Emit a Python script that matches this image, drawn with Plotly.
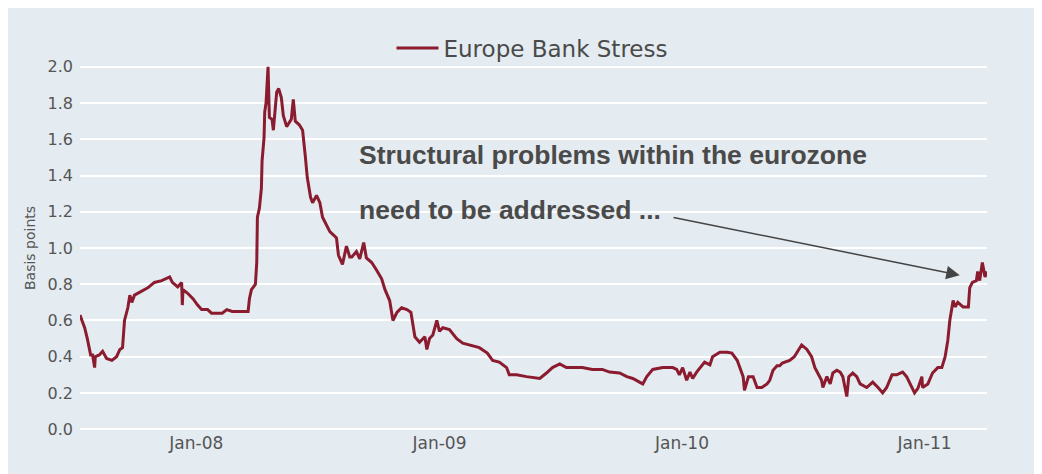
import plotly.graph_objects as go

dates = [
    "2007-07-10", "2007-07-17", "2007-07-21", "2007-07-26", "2007-07-29", "2007-08-01",
    "2007-08-02", "2007-08-08", "2007-08-13", "2007-08-19", "2007-08-27", "2007-09-03",
    "2007-09-08", "2007-09-12", "2007-09-15", "2007-09-20", "2007-09-23", "2007-09-26",
    "2007-09-30", "2007-10-11", "2007-10-20", "2007-10-30", "2007-11-10", "2007-11-22",
    "2007-11-26", "2007-12-04", "2007-12-10", "2007-12-11", "2007-12-12", "2007-12-19",
    "2007-12-27", "2008-01-03", "2008-01-09", "2008-01-18", "2008-01-24", "2008-02-09",
    "2008-02-16", "2008-02-24", "2008-03-09", "2008-03-19", "2008-03-21", "2008-03-24",
    "2008-03-28", "2008-03-30", "2008-04-01", "2008-04-02", "2008-04-05", "2008-04-08",
    "2008-04-09", "2008-04-12", "2008-04-13", "2008-04-15", "2008-04-18", "2008-04-20",
    "2008-04-24", "2008-04-26", "2008-05-01", "2008-05-04", "2008-05-08", "2008-05-11",
    "2008-05-16", "2008-05-20", "2008-05-23", "2008-05-26", "2008-05-29", "2008-06-04",
    "2008-06-09", "2008-06-13", "2008-06-16", "2008-06-21", "2008-06-24", "2008-06-30",
    "2008-07-05", "2008-07-09", "2008-07-15", "2008-07-20", "2008-07-26", "2008-07-30",
    "2008-08-02", "2008-08-08", "2008-08-14", "2008-08-19", "2008-08-22", "2008-08-26",
    "2008-08-29", "2008-09-03", "2008-09-09", "2008-09-13", "2008-09-21", "2008-09-28",
    "2008-10-06", "2008-10-11", "2008-10-18", "2008-10-23", "2008-10-29", "2008-11-05",
    "2008-11-13", "2008-11-19", "2008-11-25", "2008-12-02", "2008-12-10", "2008-12-13",
    "2008-12-17", "2008-12-22", "2008-12-28", "2009-01-01", "2009-01-06", "2009-01-16",
    "2009-01-27", "2009-02-05", "2009-02-18", "2009-03-02", "2009-03-14", "2009-03-22",
    "2009-04-01", "2009-04-12", "2009-04-16", "2009-04-27", "2009-05-12", "2009-06-01",
    "2009-06-11", "2009-06-20", "2009-07-01", "2009-07-11", "2009-07-20", "2009-08-04",
    "2009-08-19", "2009-09-03", "2009-09-14", "2009-09-29", "2009-10-10", "2009-10-19",
    "2009-10-29", "2009-11-03", "2009-11-09", "2009-11-18", "2009-12-03", "2009-12-18",
    "2009-12-24", "2009-12-28", "2010-01-02", "2010-01-08", "2010-01-13", "2010-01-17",
    "2010-01-23", "2010-01-28", "2010-02-04", "2010-02-12", "2010-02-16", "2010-02-27",
    "2010-03-10", "2010-03-17", "2010-03-25", "2010-03-29", "2010-04-03", "2010-04-05",
    "2010-04-11", "2010-04-18", "2010-04-24", "2010-05-01", "2010-05-09", "2010-05-13",
    "2010-05-18", "2010-05-24", "2010-05-28", "2010-06-01", "2010-06-12", "2010-06-19",
    "2010-06-27", "2010-06-30", "2010-07-08", "2010-07-15", "2010-07-20", "2010-07-24",
    "2010-07-30", "2010-08-01", "2010-08-07", "2010-08-12", "2010-08-16", "2010-08-22",
    "2010-08-27", "2010-08-31", "2010-09-06", "2010-09-09", "2010-09-15", "2010-09-21",
    "2010-09-26", "2010-10-06", "2010-10-15", "2010-10-23", "2010-10-30", "2010-11-05",
    "2010-11-13", "2010-11-20", "2010-11-29", "2010-12-05", "2010-12-13", "2010-12-17",
    "2010-12-22", "2010-12-28", "2010-12-29", "2011-01-06", "2011-01-13", "2011-01-21",
    "2011-01-27", "2011-02-01", "2011-02-05", "2011-02-08", "2011-02-13", "2011-02-16",
    "2011-02-20", "2011-02-28", "2011-03-08", "2011-03-10", "2011-03-14", "2011-03-20",
    "2011-03-22", "2011-03-25", "2011-03-29", "2011-04-02", "2011-04-05",
]

stress = [
    0.63, 0.56, 0.50, 0.41, 0.41, 0.34,
    0.40, 0.41, 0.43, 0.39, 0.38, 0.40,
    0.44, 0.45, 0.60, 0.67, 0.74, 0.70,
    0.74, 0.76, 0.78, 0.81, 0.82, 0.84,
    0.81, 0.785, 0.81, 0.685, 0.77, 0.75,
    0.72, 0.685, 0.66, 0.66, 0.64, 0.64,
    0.66, 0.65, 0.65, 0.65, 0.72, 0.77,
    0.79, 0.80, 0.92, 1.17, 1.22, 1.33,
    1.48, 1.61, 1.75, 1.80, 2.00, 1.72,
    1.71, 1.65, 1.86, 1.88, 1.83, 1.73,
    1.67, 1.69, 1.71, 1.82, 1.70, 1.68,
    1.65, 1.51, 1.39, 1.28, 1.25, 1.29,
    1.25, 1.17, 1.13, 1.09, 1.07, 1.055,
    0.96, 0.91, 1.01, 0.95, 0.95, 0.97,
    0.98, 0.94, 1.03, 0.945, 0.92, 0.88,
    0.83, 0.77, 0.71, 0.60, 0.645, 0.67,
    0.66, 0.645, 0.51, 0.48, 0.51, 0.44,
    0.50, 0.52, 0.60, 0.54, 0.56, 0.55,
    0.50, 0.475, 0.46, 0.45, 0.42, 0.38,
    0.37, 0.34, 0.30, 0.30, 0.29, 0.28,
    0.31, 0.34, 0.36, 0.34, 0.34, 0.34,
    0.33, 0.33, 0.315, 0.31, 0.29, 0.28,
    0.26, 0.25, 0.29, 0.33, 0.34, 0.34,
    0.33, 0.30, 0.34, 0.27, 0.315, 0.28,
    0.315, 0.34, 0.37, 0.355, 0.40, 0.425,
    0.425, 0.42, 0.38, 0.34, 0.29, 0.215,
    0.29, 0.29, 0.23, 0.23, 0.25, 0.27,
    0.325, 0.35, 0.35, 0.365, 0.38, 0.40,
    0.45, 0.465, 0.44, 0.40, 0.34, 0.31,
    0.27, 0.23, 0.29, 0.25, 0.31, 0.325,
    0.315, 0.29, 0.18, 0.29, 0.31, 0.29,
    0.25, 0.23, 0.26, 0.23, 0.20, 0.23,
    0.30, 0.30, 0.315, 0.29, 0.23, 0.20,
    0.225, 0.29, 0.23, 0.25, 0.31, 0.34,
    0.34, 0.40, 0.49, 0.60, 0.71, 0.675,
    0.70, 0.675, 0.675, 0.78, 0.81, 0.82,
    0.87, 0.82, 0.92, 0.84, 0.87,
]

x_tick_vals = ["2008-01-01", "2009-01-01", "2010-01-01", "2011-01-01"]
x_tick_text = ["Jan-08", "Jan-09", "Jan-10", "Jan-11"]
y_tick_vals = [0.0, 0.2, 0.4, 0.6, 0.8, 1.0, 1.2, 1.4, 1.6, 1.8, 2.0]
y_tick_text = ["0.0", "0.2", "0.4", "0.6", "0.8", "1.0", "1.2", "1.4", "1.6", "1.8", "2.0"]

series_name = "Europe Bank Stress"
note_line1 = "Structural problems within the eurozone"
note_line2 = "need to be addressed ..."

BG = "#e4ebf1"
LINE = "#8b1b2e"
TXT = "#555555"

fig = go.Figure()
fig.add_trace(go.Scatter(
    x=dates, y=stress, mode="lines", name=series_name,
    line=dict(color=LINE, width=3),
))

W, H = 1042, 474
ML, MR, MT, MB = 72, 63, 57, 51
pw = W - ML - MR
ph = H - MT - MB

def px_x(p):
    return (p - ML) / pw

def px_y(p):
    return (H - MB - p) / ph

fig.update_layout(
    width=W, height=H,
    margin=dict(l=ML, r=MR, t=MT, b=MB),
    paper_bgcolor=BG, plot_bgcolor=BG,
    font=dict(family="DejaVu Sans", color=TXT),
    showlegend=True,
    legend=dict(
        orientation="h", x=px_x(524), y=px_y(40), xanchor="center", yanchor="middle",
        font=dict(family="DejaVu Sans", size=23, color="#4a4a4a"),
        bgcolor="rgba(0,0,0,0)", itemwidth=42,
    ),
    xaxis=dict(
        type="date", range=["2007-07-10", "2011-04-05"],
        tickvals=x_tick_vals, ticktext=x_tick_text,
        showgrid=False, zeroline=False, showline=False,
        ticks="", tickfont=dict(family="DejaVu Sans", size=17, color=TXT),
    ),
    yaxis=dict(
        range=[-0.01, 2.01], tickvals=y_tick_vals, ticktext=y_tick_text,
        showgrid=True, gridcolor="#ffffff", gridwidth=2,
        zeroline=False, showline=False, ticks="", ticklabelstandoff=6,
        tickfont=dict(family="DejaVu Sans", size=16, color=TXT),
        title=dict(text="Basis points", font=dict(family="DejaVu Sans", size=14, color=TXT), standoff=8),
    ),
)

fig.add_annotation(text="<b>" + note_line1 + "</b>", xref="paper", yref="paper",
                   x=px_x(349), y=px_y(147), xanchor="left", yanchor="middle",
                   showarrow=False,
                   font=dict(family="Liberation Sans", size=26.5, color="#4a4a4a"))
fig.add_annotation(text="<b>" + note_line2 + "</b>", xref="paper", yref="paper",
                   x=px_x(349), y=px_y(202), xanchor="left", yanchor="middle",
                   showarrow=False,
                   font=dict(family="Liberation Sans", size=26.5, color="#4a4a4a"))

fig.add_annotation(x="2011-02-23", y=0.85, xref="x", yref="y",
                   ax="2009-12-17", ay=1.17, axref="x", ayref="y",
                   text="", showarrow=True, arrowhead=2, arrowsize=1.8,
                   arrowwidth=1.5, arrowcolor="#444444")

fig.write_html("out.html")
